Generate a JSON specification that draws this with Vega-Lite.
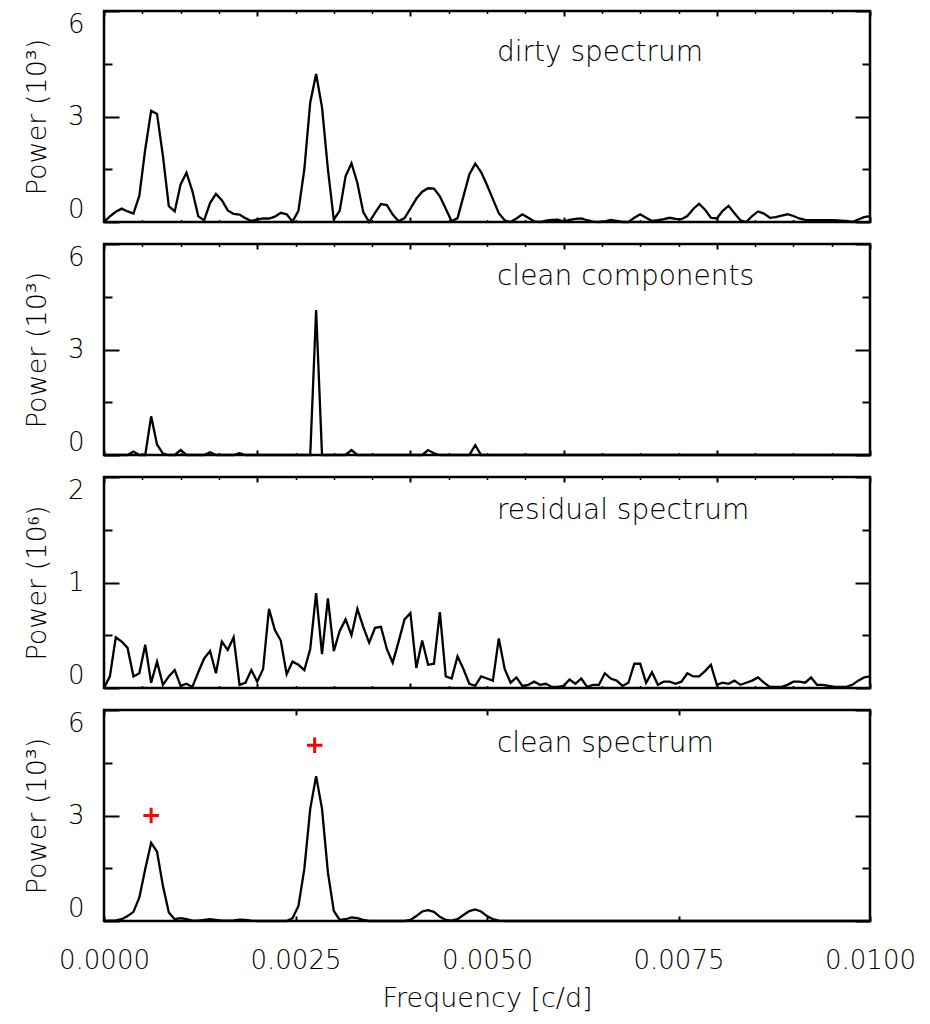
{
  "$schema": "https://vega.github.io/schema/vega-lite/v6.json",
  "padding": {"left": 22, "top": 8, "right": 5, "bottom": 5},
  "spacing": 13,
  "config": {
    "view": {"stroke": "black", "strokeWidth": 2.5},
    "axis": {"domain": false, "grid": false, "minExtent": 0, "labelOverlap": false, "tickColor": "black", "tickWidth": 2, "labelFont": "DejaVu Sans", "labelFontSize": 26, "labelFontWeight": 200, "labelColor": "black", "titleFont": "DejaVu Sans", "titleFontSize": 27, "titleFontWeight": 200, "titleColor": "black"},
    "text": {"font": "DejaVu Sans", "fontWeight": 200}
  },
  "datasets": {
    "spec": [
      {"f":0,"d":0,"c":0,"r":0,"s":0},
      {"f":0.0000769,"d":0.16,"c":0,"r":0.11,"s":0.01},
      {"f":0.0001538,"d":0.29,"c":0,"r":0.48,"s":0.02},
      {"f":0.0002308,"d":0.38,"c":0,"r":0.44,"s":0.05},
      {"f":0.0003077,"d":0.30,"c":0,"r":0.38,"s":0.14},
      {"f":0.0003846,"d":0.24,"c":0.1,"r":0.11,"s":0.26},
      {"f":0.0004615,"d":0.75,"c":0,"r":0.14,"s":0.67},
      {"f":0.0005385,"d":2.07,"c":0,"r":0.41,"s":1.48},
      {"f":0.0006154,"d":3.16,"c":1.1,"r":0.05,"s":2.22},
      {"f":0.0006923,"d":3.07,"c":0.3,"r":0.25,"s":1.97},
      {"f":0.0007692,"d":1.88,"c":0.04,"r":0.03,"s":1.0},
      {"f":0.0008462,"d":0.45,"c":0,"r":0.11,"s":0.24},
      {"f":0.0009231,"d":0.30,"c":0,"r":0.17,"s":0.05},
      {"f":0.001,"d":1.07,"c":0.14,"r":0.02,"s":0.08},
      {"f":0.0010769,"d":1.40,"c":0,"r":0.04,"s":0.05},
      {"f":0.0011538,"d":0.88,"c":0,"r":0.01,"s":0.01},
      {"f":0.0012308,"d":0.16,"c":0,"r":0.15,"s":0.01},
      {"f":0.0013077,"d":0.05,"c":0,"r":0.28,"s":0.03},
      {"f":0.0013846,"d":0.54,"c":0.08,"r":0.35,"s":0.05},
      {"f":0.0014615,"d":0.80,"c":0,"r":0.14,"s":0.03},
      {"f":0.0015385,"d":0.62,"c":0,"r":0.44,"s":0.01},
      {"f":0.0016154,"d":0.33,"c":0,"r":0.36,"s":0.01},
      {"f":0.0016923,"d":0.23,"c":0,"r":0.48,"s":0.02},
      {"f":0.0017692,"d":0.21,"c":0.05,"r":0.03,"s":0.04},
      {"f":0.0018462,"d":0.11,"c":0,"r":0.05,"s":0.03},
      {"f":0.0019231,"d":0.03,"c":0,"r":0.17,"s":0.01},
      {"f":0.002,"d":0.07,"c":0,"r":0.06,"s":0},
      {"f":0.0020769,"d":0.10,"c":0,"r":0.18,"s":0},
      {"f":0.0021538,"d":0.10,"c":0,"r":0.75,"s":0},
      {"f":0.0022308,"d":0.15,"c":0,"r":0.55,"s":0},
      {"f":0.0023077,"d":0.26,"c":0,"r":0.45,"s":0},
      {"f":0.0023846,"d":0.22,"c":0,"r":0.13,"s":0},
      {"f":0.0024615,"d":0.01,"c":0,"r":0.25,"s":0.08},
      {"f":0.0025385,"d":0.32,"c":0,"r":0.22,"s":0.43},
      {"f":0.0026154,"d":1.50,"c":0,"r":0.17,"s":1.48},
      {"f":0.0026923,"d":3.40,"c":0,"r":0.37,"s":3.19},
      {"f":0.0027692,"d":4.21,"c":4.12,"r":0.90,"s":4.12},
      {"f":0.0028462,"d":3.26,"c":0,"r":0.32,"s":3.19},
      {"f":0.0029231,"d":1.50,"c":0,"r":0.85,"s":1.38},
      {"f":0.003,"d":0.07,"c":0,"r":0.35,"s":0.29},
      {"f":0.0030769,"d":0.32,"c":0,"r":0.54,"s":0.03},
      {"f":0.0031538,"d":1.30,"c":0,"r":0.65,"s":0.05},
      {"f":0.0032308,"d":1.67,"c":0.14,"r":0.50,"s":0.10},
      {"f":0.0033077,"d":1.11,"c":0,"r":0.75,"s":0.08},
      {"f":0.0033846,"d":0.28,"c":0,"r":0.58,"s":0.03},
      {"f":0.0034615,"d":0,"c":0,"r":0.43,"s":0},
      {"f":0.0035385,"d":0.26,"c":0,"r":0.57,"s":0},
      {"f":0.0036154,"d":0.51,"c":0,"r":0.58,"s":0},
      {"f":0.0036923,"d":0.48,"c":0,"r":0.37,"s":0},
      {"f":0.0037692,"d":0.21,"c":0,"r":0.24,"s":0},
      {"f":0.0038462,"d":0.02,"c":0,"r":0.44,"s":0},
      {"f":0.0039231,"d":0.11,"c":0,"r":0.65,"s":0},
      {"f":0.004,"d":0.38,"c":0,"r":0.71,"s":0.03},
      {"f":0.0040769,"d":0.66,"c":0,"r":0.19,"s":0.14},
      {"f":0.0041538,"d":0.86,"c":0,"r":0.45,"s":0.27},
      {"f":0.0042308,"d":0.96,"c":0.14,"r":0.22,"s":0.31},
      {"f":0.0043077,"d":0.95,"c":0.05,"r":0.23,"s":0.26},
      {"f":0.0043846,"d":0.73,"c":0,"r":0.72,"s":0.12},
      {"f":0.0044615,"d":0.38,"c":0,"r":0.11,"s":0.03},
      {"f":0.0045385,"d":0.02,"c":0,"r":0.09,"s":0.01},
      {"f":0.0046154,"d":0.11,"c":0,"r":0.30,"s":0.05},
      {"f":0.0046923,"d":0.73,"c":0,"r":0.18,"s":0.17},
      {"f":0.0047692,"d":1.35,"c":0,"r":0.04,"s":0.28},
      {"f":0.0048462,"d":1.66,"c":0.28,"r":0.02,"s":0.33},
      {"f":0.0049231,"d":1.42,"c":0,"r":0.11,"s":0.27},
      {"f":0.005,"d":1.05,"c":0,"r":0.09,"s":0.14},
      {"f":0.0050769,"d":0.65,"c":0,"r":0.07,"s":0.05},
      {"f":0.0051538,"d":0.25,"c":0,"r":0.47,"s":0.01},
      {"f":0.0052308,"d":0.05,"c":0,"r":0.18,"s":0},
      {"f":0.0053077,"d":0,"c":0,"r":0.05,"s":0},
      {"f":0.0053846,"d":0.10,"c":0,"r":0.10,"s":0},
      {"f":0.0054615,"d":0.22,"c":0,"r":0.02,"s":0},
      {"f":0.0055385,"d":0.12,"c":0,"r":0.03,"s":0},
      {"f":0.0056154,"d":0.02,"c":0,"r":0.06,"s":0},
      {"f":0.0056923,"d":0,"c":0,"r":0.03,"s":0},
      {"f":0.0057692,"d":0.04,"c":0,"r":0.04,"s":0},
      {"f":0.0058462,"d":0.06,"c":0,"r":0.01,"s":0},
      {"f":0.0059231,"d":0.07,"c":0,"r":0.01,"s":0},
      {"f":0.006,"d":0.02,"c":0,"r":0.02,"s":0},
      {"f":0.0060769,"d":0.06,"c":0,"r":0.08,"s":0},
      {"f":0.0061538,"d":0.09,"c":0,"r":0.04,"s":0},
      {"f":0.0062308,"d":0.10,"c":0,"r":0.09,"s":0},
      {"f":0.0063077,"d":0.05,"c":0,"r":0.01,"s":0},
      {"f":0.0063846,"d":0.01,"c":0,"r":0.03,"s":0},
      {"f":0.0064615,"d":0,"c":0,"r":0.03,"s":0},
      {"f":0.0065385,"d":0.02,"c":0,"r":0.14,"s":0},
      {"f":0.0066154,"d":0.06,"c":0,"r":0.09,"s":0},
      {"f":0.0066923,"d":0.03,"c":0,"r":0.07,"s":0},
      {"f":0.0067692,"d":0,"c":0,"r":0.02,"s":0},
      {"f":0.0068462,"d":0,"c":0,"r":0.05,"s":0},
      {"f":0.0069231,"d":0.12,"c":0,"r":0.23,"s":0},
      {"f":0.007,"d":0.22,"c":0,"r":0.23,"s":0},
      {"f":0.0070769,"d":0.12,"c":0,"r":0.05,"s":0},
      {"f":0.0071538,"d":0.03,"c":0,"r":0.15,"s":0},
      {"f":0.0072308,"d":0.05,"c":0,"r":0.03,"s":0},
      {"f":0.0073077,"d":0.08,"c":0,"r":0.06,"s":0},
      {"f":0.0073846,"d":0.12,"c":0,"r":0.06,"s":0},
      {"f":0.0074615,"d":0.09,"c":0,"r":0.04,"s":0},
      {"f":0.0075385,"d":0.08,"c":0,"r":0.06,"s":0},
      {"f":0.0076154,"d":0.17,"c":0,"r":0.14,"s":0},
      {"f":0.0076923,"d":0.37,"c":0,"r":0.11,"s":0},
      {"f":0.0077692,"d":0.52,"c":0,"r":0.11,"s":0},
      {"f":0.0078462,"d":0.35,"c":0,"r":0.16,"s":0},
      {"f":0.0079231,"d":0.12,"c":0,"r":0.22,"s":0},
      {"f":0.008,"d":0.10,"c":0,"r":0.03,"s":0},
      {"f":0.0080769,"d":0.32,"c":0,"r":0.05,"s":0},
      {"f":0.0081538,"d":0.46,"c":0,"r":0.04,"s":0},
      {"f":0.0082308,"d":0.25,"c":0,"r":0.07,"s":0},
      {"f":0.0083077,"d":0.05,"c":0,"r":0.03,"s":0},
      {"f":0.0083846,"d":0,"c":0,"r":0.05,"s":0},
      {"f":0.0084615,"d":0.17,"c":0,"r":0.07,"s":0},
      {"f":0.0085385,"d":0.30,"c":0,"r":0.10,"s":0},
      {"f":0.0086154,"d":0.24,"c":0,"r":0.05,"s":0},
      {"f":0.0086923,"d":0.12,"c":0,"r":0.01,"s":0},
      {"f":0.0087692,"d":0.14,"c":0,"r":0.01,"s":0},
      {"f":0.0088462,"d":0.18,"c":0,"r":0.01,"s":0},
      {"f":0.0089231,"d":0.22,"c":0,"r":0.03,"s":0},
      {"f":0.009,"d":0.17,"c":0,"r":0.06,"s":0},
      {"f":0.0090769,"d":0.10,"c":0,"r":0.06,"s":0},
      {"f":0.0091538,"d":0.06,"c":0,"r":0.05,"s":0},
      {"f":0.0092308,"d":0.05,"c":0,"r":0.10,"s":0},
      {"f":0.0093077,"d":0.05,"c":0,"r":0.03,"s":0},
      {"f":0.0093846,"d":0.05,"c":0,"r":0.03,"s":0},
      {"f":0.0094615,"d":0.05,"c":0,"r":0.02,"s":0},
      {"f":0.0095385,"d":0.05,"c":0,"r":0.01,"s":0},
      {"f":0.0096154,"d":0.04,"c":0,"r":0.01,"s":0},
      {"f":0.0096923,"d":0.03,"c":0,"r":0.01,"s":0},
      {"f":0.0097692,"d":0,"c":0,"r":0.03,"s":0},
      {"f":0.0098462,"d":0.07,"c":0,"r":0.07,"s":0},
      {"f":0.0099231,"d":0.14,"c":0,"r":0.10,"s":0},
      {"f":0.01,"d":0.17,"c":0,"r":0.11,"s":0}
    ],
    "frame": [{"f":0.005,"v":0.5}],
    "peaks": [{"f":0.000615,"p":3.0},{"f":0.00275,"p":5.0}]
  },
  "vconcat": [
    {
      "width": 766, "height": 211,
      "resolve": {"axis": {"x": "independent", "y": "independent"}},
      "layer": [
        {"data": {"name": "spec"}, "mark": {"type": "line", "color": "black", "strokeWidth": 2.3},
         "encoding": {
           "x": {"field": "f", "type": "quantitative", "scale": {"domain": [0, 0.01], "nice": false, "zero": false}, "axis": {"orient": "bottom", "values": [0,0.002,0.004,0.006,0.008,0.01], "tickSize": -5, "labels": false, "title": null}},
           "y": {"field": "d", "type": "quantitative", "scale": {"domain": [0, 6], "nice": false}, "axis": {"orient": "left", "values": [0,3,6], "format": "d", "labelOverlap": false, "tickSize": -15, "labelPadding": 35, "labelFlush": true, "title": "Power (10³)", "titlePadding": 16}}
         }},
        {"data": {"name": "frame"}, "mark": {"type": "point", "opacity": 0},
         "encoding": {
           "x": {"field": "f", "type": "quantitative", "axis": {"orient": "top", "values": [0,0.002,0.004,0.006,0.008,0.01], "tickSize": -5, "labels": false, "title": null}},
           "y": {"field": "v", "type": "quantitative", "axis": {"orient": "right", "values": [0,3,6], "tickSize": -15, "labels": false, "title": null}}
         }},
        {"data": {"name": "frame"}, "mark": {"type": "point", "opacity": 0},
         "encoding": {
           "x": {"field": "f", "type": "quantitative", "axis": {"orient": "bottom", "values": [0.0005,0.001,0.0015,0.0025,0.003,0.0035,0.0045,0.005,0.0055,0.0065,0.007,0.0075,0.0085,0.009,0.0095], "tickSize": -2.5, "tickWidth": 1.5, "labels": false, "title": null}},
           "y": {"field": "v", "type": "quantitative", "axis": {"orient": "left", "values": [1.5,4.5], "tickSize": -8, "labels": false, "title": null}}
         }},
        {"data": {"name": "frame"}, "mark": {"type": "point", "opacity": 0},
         "encoding": {
           "x": {"field": "f", "type": "quantitative", "axis": {"orient": "top", "values": [0.0005,0.001,0.0015,0.0025,0.003,0.0035,0.0045,0.005,0.0055,0.0065,0.007,0.0075,0.0085,0.009,0.0095], "tickSize": -2.5, "tickWidth": 1.5, "labels": false, "title": null}},
           "y": {"field": "v", "type": "quantitative", "axis": {"orient": "right", "values": [1.5,4.5], "tickSize": -8, "labels": false, "title": null}}
         }},
        {"data": {"values": [{"f": 0.00513, "p": 4.57, "label": "dirty spectrum"}]}, "mark": {"type": "text", "align": "left", "baseline": "alphabetic", "fontSize": 28, "color": "black"},
         "encoding": {
           "x": {"field": "f", "type": "quantitative", "axis": null},
           "y": {"field": "p", "type": "quantitative", "axis": null},
           "text": {"field": "label"}
         }}
      ]
    },
    {
      "width": 766, "height": 211,
      "resolve": {"axis": {"x": "independent", "y": "independent"}},
      "layer": [
        {"data": {"name": "spec"}, "mark": {"type": "line", "color": "black", "strokeWidth": 2.3},
         "encoding": {
           "x": {"field": "f", "type": "quantitative", "scale": {"domain": [0, 0.01], "nice": false, "zero": false}, "axis": {"orient": "bottom", "values": [0,0.002,0.004,0.006,0.008,0.01], "tickSize": -5, "labels": false, "title": null}},
           "y": {"field": "c", "type": "quantitative", "scale": {"domain": [0, 6], "nice": false}, "axis": {"orient": "left", "values": [0,3,6], "format": "d", "labelOverlap": false, "tickSize": -15, "labelPadding": 35, "labelFlush": true, "title": "Power (10³)", "titlePadding": 16}}
         }},
        {"data": {"name": "frame"}, "mark": {"type": "point", "opacity": 0},
         "encoding": {
           "x": {"field": "f", "type": "quantitative", "axis": {"orient": "top", "values": [0,0.002,0.004,0.006,0.008,0.01], "tickSize": -5, "labels": false, "title": null}},
           "y": {"field": "v", "type": "quantitative", "axis": {"orient": "right", "values": [0,3,6], "tickSize": -15, "labels": false, "title": null}}
         }},
        {"data": {"name": "frame"}, "mark": {"type": "point", "opacity": 0},
         "encoding": {
           "x": {"field": "f", "type": "quantitative", "axis": {"orient": "bottom", "values": [0.0005,0.001,0.0015,0.0025,0.003,0.0035,0.0045,0.005,0.0055,0.0065,0.007,0.0075,0.0085,0.009,0.0095], "tickSize": -2.5, "tickWidth": 1.5, "labels": false, "title": null}},
           "y": {"field": "v", "type": "quantitative", "axis": {"orient": "left", "values": [1.5,4.5], "tickSize": -8, "labels": false, "title": null}}
         }},
        {"data": {"name": "frame"}, "mark": {"type": "point", "opacity": 0},
         "encoding": {
           "x": {"field": "f", "type": "quantitative", "axis": {"orient": "top", "values": [0.0005,0.001,0.0015,0.0025,0.003,0.0035,0.0045,0.005,0.0055,0.0065,0.007,0.0075,0.0085,0.009,0.0095], "tickSize": -2.5, "tickWidth": 1.5, "labels": false, "title": null}},
           "y": {"field": "v", "type": "quantitative", "axis": {"orient": "right", "values": [1.5,4.5], "tickSize": -8, "labels": false, "title": null}}
         }},
        {"data": {"values": [{"f": 0.00513, "p": 4.83, "label": "clean components"}]}, "mark": {"type": "text", "align": "left", "baseline": "alphabetic", "fontSize": 28, "color": "black"},
         "encoding": {
           "x": {"field": "f", "type": "quantitative", "axis": null},
           "y": {"field": "p", "type": "quantitative", "axis": null},
           "text": {"field": "label"}
         }}
      ]
    },
    {
      "width": 766, "height": 211,
      "resolve": {"axis": {"x": "independent", "y": "independent"}},
      "layer": [
        {"data": {"name": "spec"}, "mark": {"type": "line", "color": "black", "strokeWidth": 2.3},
         "encoding": {
           "x": {"field": "f", "type": "quantitative", "scale": {"domain": [0, 0.01], "nice": false, "zero": false}, "axis": {"orient": "bottom", "values": [0,0.002,0.004,0.006,0.008,0.01], "tickSize": -5, "labels": false, "title": null}},
           "y": {"field": "r", "type": "quantitative", "scale": {"domain": [0, 2], "nice": false}, "axis": {"orient": "left", "values": [0,1,2], "format": ".0f", "labelOverlap": false, "tickSize": -15, "labelPadding": 35, "labelFlush": true, "title": "Power (10⁶)", "titlePadding": 16}}
         }},
        {"data": {"name": "frame"}, "mark": {"type": "point", "opacity": 0},
         "encoding": {
           "x": {"field": "f", "type": "quantitative", "axis": {"orient": "top", "values": [0,0.002,0.004,0.006,0.008,0.01], "tickSize": -5, "labels": false, "title": null}},
           "y": {"field": "v", "type": "quantitative", "axis": {"orient": "right", "values": [0,1,2], "tickSize": -15, "labels": false, "title": null}}
         }},
        {"data": {"name": "frame"}, "mark": {"type": "point", "opacity": 0},
         "encoding": {
           "x": {"field": "f", "type": "quantitative", "axis": {"orient": "bottom", "values": [0.0005,0.001,0.0015,0.0025,0.003,0.0035,0.0045,0.005,0.0055,0.0065,0.007,0.0075,0.0085,0.009,0.0095], "tickSize": -2.5, "tickWidth": 1.5, "labels": false, "title": null}},
           "y": {"field": "v", "type": "quantitative", "axis": {"orient": "left", "values": [0.5,1.5], "tickSize": -8, "labels": false, "title": null}}
         }},
        {"data": {"name": "frame"}, "mark": {"type": "point", "opacity": 0},
         "encoding": {
           "x": {"field": "f", "type": "quantitative", "axis": {"orient": "top", "values": [0.0005,0.001,0.0015,0.0025,0.003,0.0035,0.0045,0.005,0.0055,0.0065,0.007,0.0075,0.0085,0.009,0.0095], "tickSize": -2.5, "tickWidth": 1.5, "labels": false, "title": null}},
           "y": {"field": "v", "type": "quantitative", "axis": {"orient": "right", "values": [0.5,1.5], "tickSize": -8, "labels": false, "title": null}}
         }},
        {"data": {"values": [{"f": 0.00513, "p": 1.6, "label": "residual spectrum"}]}, "mark": {"type": "text", "align": "left", "baseline": "alphabetic", "fontSize": 28, "color": "black"},
         "encoding": {
           "x": {"field": "f", "type": "quantitative", "axis": null},
           "y": {"field": "p", "type": "quantitative", "axis": null},
           "text": {"field": "label"}
         }}
      ]
    },
    {
      "width": 766, "height": 211,
      "resolve": {"axis": {"x": "independent", "y": "independent"}},
      "layer": [
        {"data": {"name": "spec"}, "mark": {"type": "line", "color": "black", "strokeWidth": 2.3},
         "encoding": {
           "x": {"field": "f", "type": "quantitative", "scale": {"domain": [0, 0.01], "nice": false, "zero": false}, "axis": {"orient": "bottom", "values": [0,0.0025,0.005,0.0075,0.01], "format": ".4f", "tickSize": -5, "labelPadding": 31, "labelFlush": false, "title": "Frequency [c/d]", "titlePadding": 12}},
           "y": {"field": "s", "type": "quantitative", "scale": {"domain": [0, 6], "nice": false}, "axis": {"orient": "left", "values": [0,3,6], "format": "d", "labelOverlap": false, "tickSize": -15, "labelPadding": 35, "labelFlush": true, "title": "Power (10³)", "titlePadding": 16}}
         }},
        {"data": {"name": "frame"}, "mark": {"type": "point", "opacity": 0},
         "encoding": {
           "x": {"field": "f", "type": "quantitative", "axis": {"orient": "top", "values": [0,0.0025,0.005,0.0075,0.01], "tickSize": -5, "labels": false, "title": null}},
           "y": {"field": "v", "type": "quantitative", "axis": {"orient": "right", "values": [0,3,6], "tickSize": -15, "labels": false, "title": null}}
         }},
        {"data": {"name": "frame"}, "mark": {"type": "point", "opacity": 0},
         "encoding": {
           "x": {"field": "f", "type": "quantitative", "axis": null},
           "y": {"field": "v", "type": "quantitative", "axis": {"orient": "left", "values": [1.5,4.5], "tickSize": -8, "labels": false, "title": null}}
         }},
        {"data": {"name": "frame"}, "mark": {"type": "point", "opacity": 0},
         "encoding": {
           "x": {"field": "f", "type": "quantitative", "axis": null},
           "y": {"field": "v", "type": "quantitative", "axis": {"orient": "right", "values": [1.5,4.5], "tickSize": -8, "labels": false, "title": null}}
         }},
        {"data": {"name": "peaks"}, "mark": {"type": "point", "shape": "M-1,0H1M0,-1V1", "size": 240, "filled": false, "stroke": "red", "strokeWidth": 3, "opacity": 1},
         "encoding": {
           "x": {"field": "f", "type": "quantitative", "axis": null},
           "y": {"field": "p", "type": "quantitative", "axis": null}
         }},
        {"data": {"values": [{"f": 0.00513, "p": 4.8, "label": "clean spectrum"}]}, "mark": {"type": "text", "align": "left", "baseline": "alphabetic", "fontSize": 28, "color": "black"},
         "encoding": {
           "x": {"field": "f", "type": "quantitative", "axis": null},
           "y": {"field": "p", "type": "quantitative", "axis": null},
           "text": {"field": "label"}
         }}
      ]
    }
  ]
}
